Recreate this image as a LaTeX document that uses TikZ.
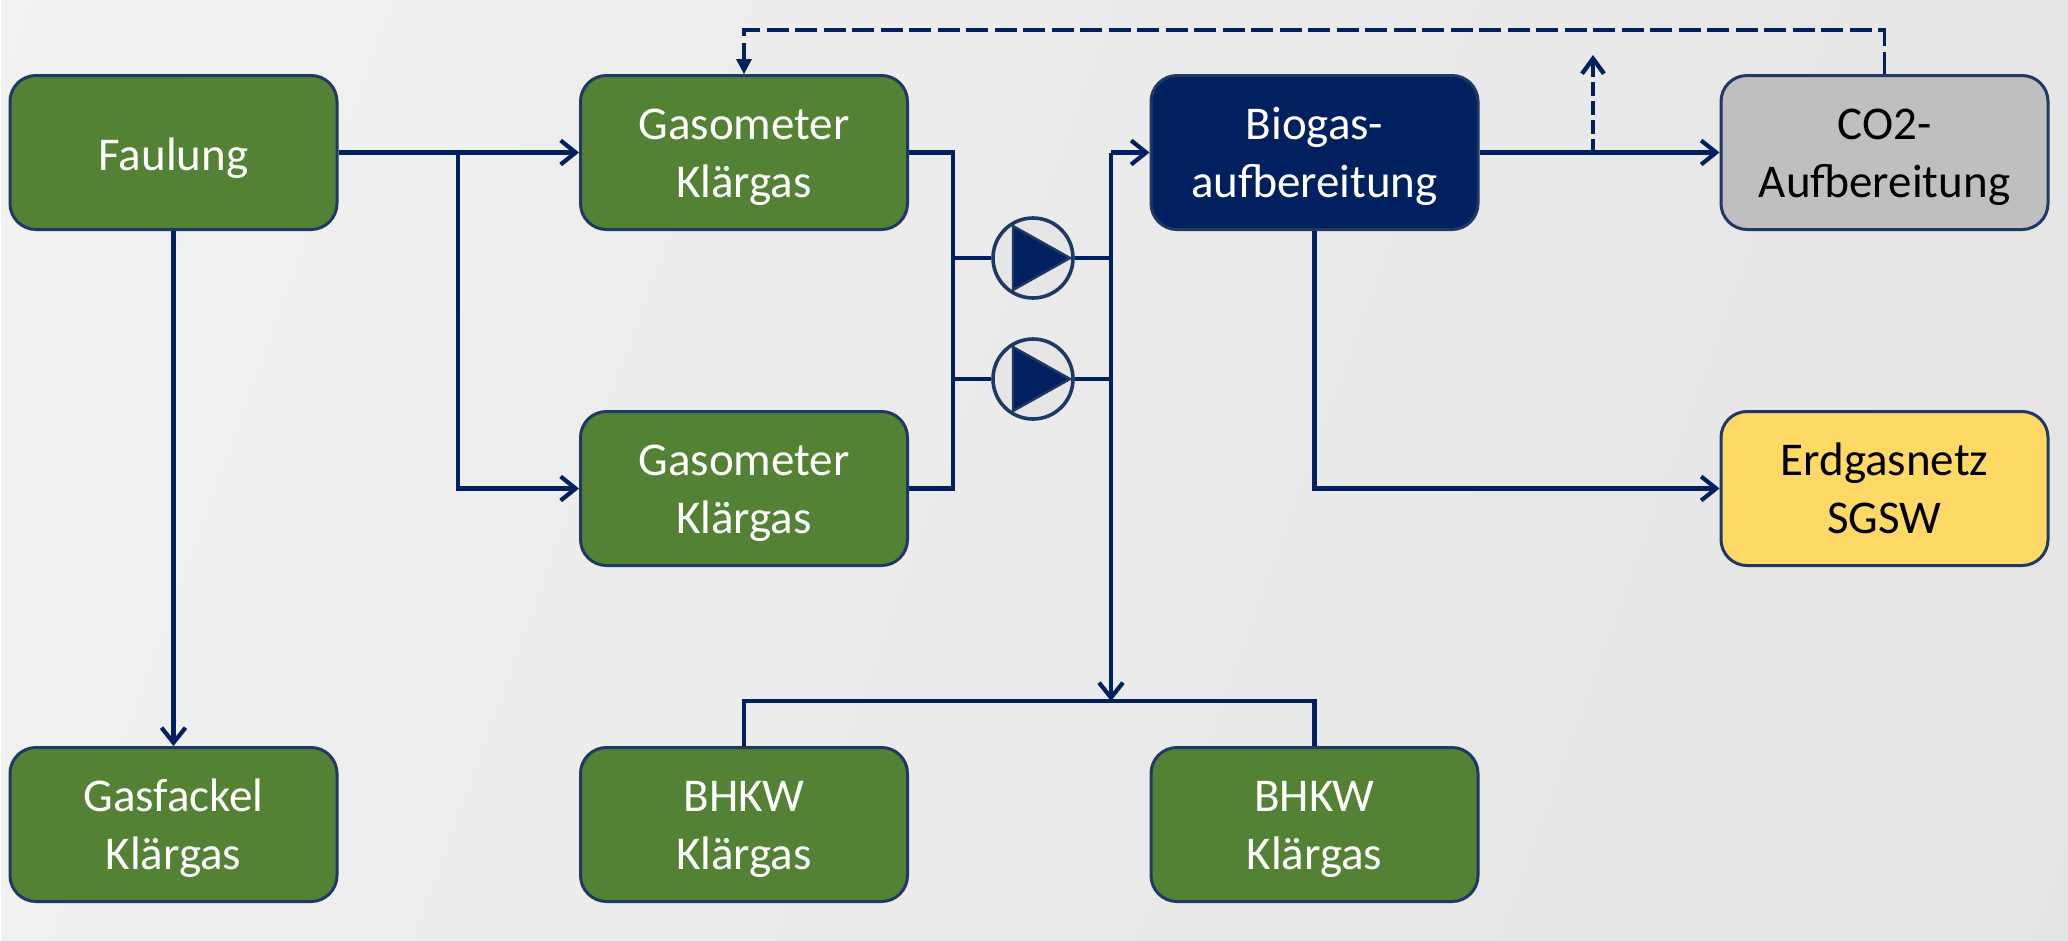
\documentclass[tikz,border=0pt]{standalone}
\usepackage{fontspec}
\setmainfont{Carlito}
\usetikzlibrary{arrows.meta,shapes.geometric}
\definecolor{bggreen}{HTML}{548235}
\definecolor{navy}{HTML}{002060}
\definecolor{edgeblue}{HTML}{1F3864}
\definecolor{graybox}{HTML}{BFBFBF}
\definecolor{yellowbox}{HTML}{FFD966}
\definecolor{bgA}{HTML}{F2F2F2}
\definecolor{bgB}{HTML}{E4E4E4}
\definecolor{pumpfill}{HTML}{E6E6E6}
\tikzset{
  x=1pt,y=-1pt,
  boxbase/.style={rectangle,rounded corners=26pt,draw=edgeblue,line width=3pt,minimum width=327pt,minimum height=154pt,inner sep=0pt,font=\fontsize{47}{57.7}\selectfont},
  box/.style={boxbase,align=center,execute at begin node={\rule[-13pt]{0pt}{116pt}}},
  onelinebox/.style={boxbase,fill=bggreen,text=white,execute at begin node={\rule[-15pt]{0pt}{65pt}}},
  greenbox/.style={box,fill=bggreen,text=white},
  navybox/.style={box,fill=navy,text=white},
  greybox/.style={box,fill=graybox,text=black},
  ybox/.style={box,fill=yellowbox,text=black},
  conn/.style={draw=navy,line width=4.2pt,line join=miter},
  openarrow/.style={-{Straight Barb[length=15pt,width=24pt,line width=4.2pt]}},
  longdash/.style={draw=navy,line width=3.4pt,dash pattern=on 22pt off 6.5pt},
  shortdash/.style={draw=navy,line width=4.4pt,dash pattern=on 14pt off 5pt},
  pump/.style={circle,draw=edgeblue,fill=pumpfill,line width=3.6pt,minimum size=80pt,inner sep=0pt},
  pumphead/.style={draw=edgeblue,fill=navy,line width=2.4pt,line join=round},
}
\begin{document}
\begin{tikzpicture}
\useasboundingbox (0,0) rectangle (2068,940);
\shade[left color=bgA,right color=bgB,shading angle=70] (-200,-600) rectangle (2268,1540);
\fill[white] (0,0) rectangle (1,940);
\useasboundingbox (0,0) rectangle (2068,940);

\node[onelinebox] (faul) at (173.5,152.5) {Faulung};
\node[greenbox] (gas1) at (744,152.5) {Gasometer\\Klärgas};
\node[greenbox] (gas2) at (744,488.5) {Gasometer\\Klärgas};
\node[navybox] (bio) at (1314.5,152.5) {Biogas-\\aufbereitung};
\node[greybox] (co2) at (1884.5,152.5) {CO2-\\Aufbereitung};
\node[ybox] (erd) at (1884.5,488.5) {Erdgasnetz\\SGSW};
\node[greenbox] (fack) at (173.5,824.5) {Gasfackel\\Klärgas};
\node[greenbox] (bhkw1) at (744,824.5) {BHKW\\Klärgas};
\node[greenbox] (bhkw2) at (1314.5,824.5) {BHKW\\Klärgas};

\node[pump] (p1) at (1033,258) {};
\node[pump] (p2) at (1033,379) {};
\foreach \p in {p1,p2}{
  \draw[pumphead] ([shift={(-20,-32)}]\p.center) -- ([shift={(37,0)}]\p.center) -- ([shift={(-20,32)}]\p.center) -- cycle;
}

\coordinate (split) at (458,152.5);
\coordinate (busL) at (953,152.5);
\coordinate (busLb) at (953,488.5);
\coordinate (busR) at (1111,152.5);
\coordinate (bar) at (1111,701);
\coordinate (tap) at (1593,152.5);
\coordinate (tapend) at (1593,55);
\coordinate (topL) at (744,30);
\coordinate (topR) at (1884.5,30);

% Faulung outputs
\draw[conn,openarrow] (faul.east) -- (gas1.west);
\draw[conn,openarrow] (split) |- (gas2.west);
\draw[conn,openarrow] (faul.south) -- (fack.north);

% Gasometer collector
\draw[conn] (gas1.east) -| (busLb) -- (gas2.east);
\draw[conn] (p1.west -| busL) -- (p1.west);
\draw[conn] (p2.west -| busL) -- (p2.west);

% Pump outlets and distribution
\draw[conn] (p1.east) -- (p1.east -| busR);
\draw[conn] (p2.east) -- (p2.east -| busR);
\draw[conn,openarrow] (bio.west -| busR) -- (bio.west);
\draw[conn,openarrow] (bio.west -| busR) -- (bar);
\draw[conn] (bhkw1.north) |- (bar) -| (bhkw2.north);

% Biogas outputs
\draw[conn,openarrow] (bio.east) -- (co2.west);
\draw[conn,openarrow] (bio.south) |- (erd.west);
\draw[shortdash,-{Straight Barb[length=15pt,width=22pt,line width=4.4pt]}] (tap) -- (tapend);

% CO2 return
\draw[longdash] (co2.north) -- (topR) -- (topL) -- ([yshift=14pt]gas1.north);
\fill[navy] (gas1.north) -- ++(-8,-15) -- ++(16,0) -- cycle;
\end{tikzpicture}
\end{document}
